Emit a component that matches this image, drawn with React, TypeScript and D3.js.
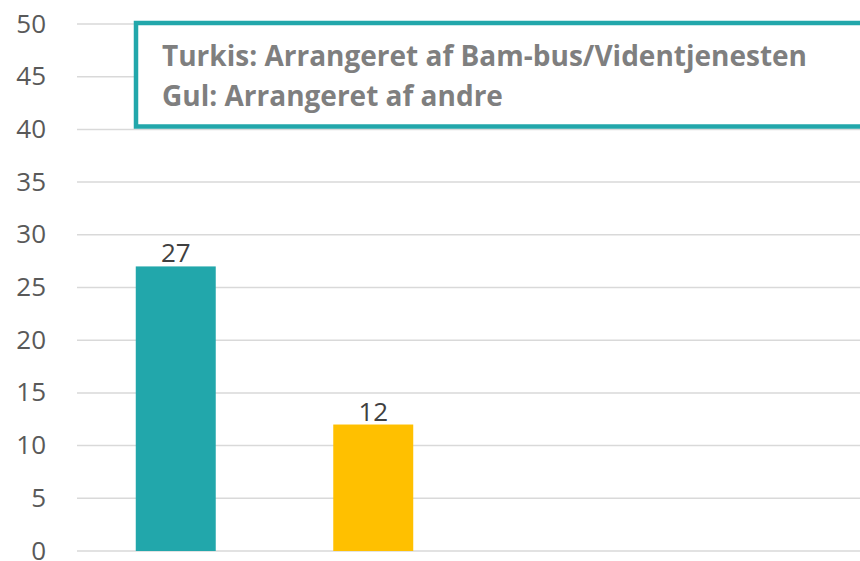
import * as d3 from "d3";

const categories = ["Bam-bus/Videntjenesten", "Andre"];
const values = [27, 12];
const barColors = ["#22A7AB", "#FFC000"];
const yTicks = [0, 5, 10, 15, 20, 25, 30, 35, 40, 45, 50];
const legendLines = [
  "Turkis: Arrangeret af Bam-bus/Videntjenesten",
  "Gul: Arrangeret af andre",
];

const width = 860;
const height = 561;
const font = "'Open Sans', 'DejaVu Sans', sans-serif";

export default function App() {
  const left = 77;
  const y = d3.scaleLinear([0, 50], [551, 24]);
  const x = d3
    .scaleBand(categories, [left, left + 395])
    .paddingInner(0.595)
    .paddingOuter(0.2975);

  return (
    <svg
      width={width}
      height={height}
      style={{ position: "absolute", left: 0, top: 0, background: "#fff" }}
    >
      <g>
        {yTicks.map((t) => (
          <g key={t}>
            <line
              x1={left}
              x2={width}
              y1={y(t)}
              y2={y(t)}
              stroke="#d9d9d9"
              strokeWidth={1.5}
            />
            <text
              x={46}
              y={y(t)}
              dy="0.33em"
              textAnchor="end"
              fontFamily={font}
              fontSize={26}
              fill="#595959"
            >
              {t}
            </text>
          </g>
        ))}
      </g>
      {categories.map((c, i) => (
        <g key={c}>
          <rect
            x={x(c)}
            y={y(values[i])}
            width={x.bandwidth()}
            height={y(0) - y(values[i])}
            fill={barColors[i]}
          />
          <text
            x={x(c)! + x.bandwidth() / 2}
            y={y(values[i]) - 4}
            textAnchor="middle"
            fontFamily={font}
            fontSize={26}
            fill="#404040"
          >
            {values[i]}
          </text>
        </g>
      ))}
      <rect
        x={136}
        y={23}
        width={width}
        height={103.5}
        fill="#fff"
        stroke="#22A7AB"
        strokeWidth={4.5}
      />
      {legendLines.map((l, i) => (
        <text
          key={l}
          x={162}
          y={66 + i * 40}
          fontFamily={font}
          fontWeight={700}
          fontSize={28}
          fill="#7f7f7f"
        >
          {l}
        </text>
      ))}
    </svg>
  );
}
